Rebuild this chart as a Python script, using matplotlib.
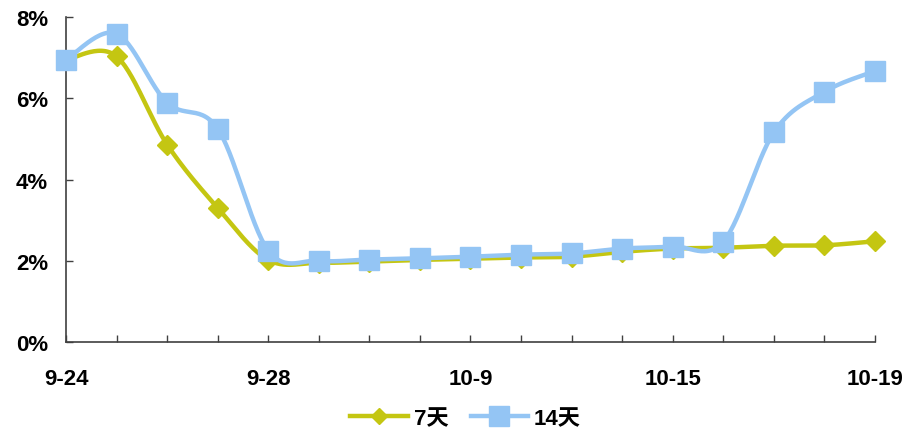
import numpy as np
import matplotlib
matplotlib.use("Agg")
import matplotlib.pyplot as plt

# Dates of the observations
dates = ["9-24", "9-25", "9-26", "9-27", "9-28", "9-29", "9-30", "10-8", "10-9",
         "10-10", "10-11", "10-12", "10-15", "10-16", "10-17", "10-18", "10-19"]
shown_labels = ["9-24", "9-28", "10-9", "10-15", "10-19"]

# Rates (%) for the two tenors
rate_7d = [6.95, 7.03, 4.86, 3.30, 2.02, 1.95, 1.98, 2.02, 2.05, 2.08, 2.10,
           2.22, 2.30, 2.32, 2.37, 2.38, 2.48]
rate_14d = [6.95, 7.59, 5.89, 5.25, 2.25, 2.00, 2.03, 2.06, 2.10, 2.15, 2.18,
            2.30, 2.35, 2.47, 5.16, 6.16, 6.67]

series_names = ["7天", "14天"]
yellow = "#C4C612"
blue = "#94C5F4"


def smooth_curve(x, y, steps=30):
    """Cubic Bezier smoothing through every point (Catmull-Rom style)."""
    x = np.asarray(x, float)
    y = np.asarray(y, float)
    n = len(x)
    xs, ys = [], []
    for i in range(n - 1):
        p0 = np.array([x[max(i - 1, 0)], y[max(i - 1, 0)]])
        p1 = np.array([x[i], y[i]])
        p2 = np.array([x[i + 1], y[i + 1]])
        p3 = np.array([x[min(i + 2, n - 1)], y[min(i + 2, n - 1)]])
        c1 = p1 + (p2 - p0) / 6.0
        c2 = p2 - (p3 - p1) / 6.0
        t = np.linspace(0, 1, steps, endpoint=(i == n - 2))[:, None]
        pts = ((1 - t) ** 3) * p1 + 3 * ((1 - t) ** 2) * t * c1 \
            + 3 * (1 - t) * t ** 2 * c2 + t ** 3 * p2
        xs.append(pts[:, 0])
        ys.append(pts[:, 1])
    return np.concatenate(xs), np.concatenate(ys)


plt.rcParams["font.family"] = ["Liberation Sans", "Noto Sans CJK SC", "DejaVu Sans"]

fig = plt.figure(figsize=(9.22, 4.35), dpi=100)
ax = fig.add_axes([0.0716, 0.2115, 0.8774, 0.7471])

xi = np.arange(len(dates))

for vals, color, marker, ms, name in [
    (rate_7d, yellow, "D", 10, series_names[0]),
    (rate_14d, blue, "s", 14.5, series_names[1]),
]:
    sx, sy = smooth_curve(xi, vals)
    ax.plot(sx, sy, color=color, lw=3.2, solid_capstyle="round", zorder=2,
            clip_on=False)
    ax.plot(xi, vals, linestyle="none", marker=marker, ms=ms, color=color,
            mec=color, zorder=3, clip_on=False)
    ax.plot([], [], color=color, lw=3.2, marker=marker,
            ms=ms * (0.85 if marker == "D" else 1.0), label=name)

ax.set_xlim(0, len(dates) - 1)
ax.set_ylim(0, 8)
ax.set_yticks([0, 2, 4, 6, 8])
ax.set_yticklabels([f"{v}%" for v in [0, 2, 4, 6, 8]])
ax.set_xticks(xi)
ax.set_xticklabels([d if d in shown_labels else "" for d in dates])

for s in ["top", "right"]:
    ax.spines[s].set_visible(False)
for s in ["left", "bottom"]:
    ax.spines[s].set_color("#404040")
    ax.spines[s].set_linewidth(1.2)

ax.tick_params(axis="both", direction="in", length=5, width=1, color="#404040",
               labelsize=16)
ax.tick_params(axis="x", pad=19)
ax.tick_params(axis="y", pad=13)
for lab in ax.get_xticklabels() + ax.get_yticklabels():
    lab.set_fontweight("bold")

leg = fig.legend(loc="center", bbox_to_anchor=(0.505, 0.035), ncol=2,
                 frameon=False, handlelength=2.6, handletextpad=0.25,
                 columnspacing=1.0, prop={"size": 16, "weight": "bold"})

fig.savefig("out.png", dpi=100)
